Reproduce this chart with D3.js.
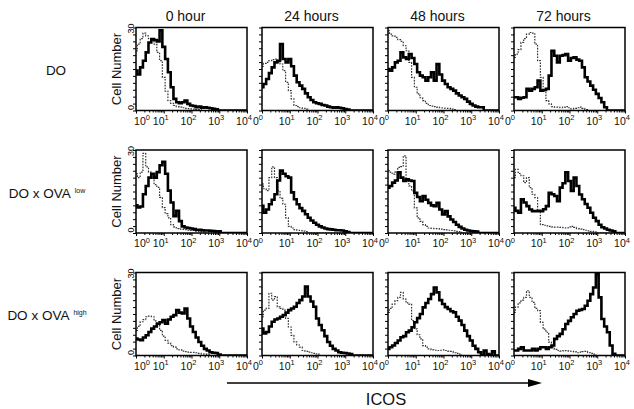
<!DOCTYPE html>
<html><head><meta charset="utf-8">
<script src="https://cdn.jsdelivr.net/npm/d3@7"></script>
<style>
body{margin:0;background:#fff}
svg{display:block;font-family:"Liberation Sans",Arial,Helvetica,sans-serif}
</style>
</head><body>
<svg id="chart" width="634" height="409"></svg>
<script>
// ---------- data ----------
const timepoints = ["0 hour", "24 hours", "48 hours", "72 hours"];
const strainNames = ["DO", "DO x OVA", "DO x OVA"];
const strainSup = ["", "low", "high"];
const axisTitle = "ICOS";
const yAxisTitle = "Cell Number";
const yTickLabels = [0, 30];
const xMajorTicks = [1, 10, 100, 1000, 10000];
const xTickExponents = ["0", "1", "2", "3", "4"];
// histogram bin positions (log10 ICOS fluorescence)
const binDecades = [0,0.1,0.2,0.3,0.4,0.5,0.6,0.7,0.8,0.9,1.0,1.1,1.2,1.3,1.4,1.5,1.6,1.7,1.8,1.9,2.0,
                    2.1,2.2,2.3,2.4,2.5,2.6,2.7,2.8,2.9,3.0,3.1,3.2,3.3,3.4,3.5,3.6,3.7,3.8,3.9,4.0];

// ICOS staining (thick solid) — one array per timepoint
const icosDO = [
  [14.4,13,15.6,18,21,24.6,25.8,25.5,25,29,23,18.6,13.8,8.4,4.2,3,2.6,3,3.6,2.4,1.8,1.6,1.2,1.4,1,1.2,1,0.8,0.6,0.4,0,0,0,0,0,0,0,0,0,0,0],
  [8.4,9.6,11.4,13.5,15.6,17.4,18,24,18.6,17.4,18.6,16,12.6,10.2,9,7.8,6.2,4.8,3.8,3,2.6,2.4,2,1.8,1.4,1.2,1,1.2,1,0.8,0.5,0.3,0,0,0,0,0,0,0,0,0],
  [15,14.4,15.6,17.4,18,21,19.2,18.6,20.4,19,16.8,13.8,12.6,12,10.8,12,13.8,10.8,16.8,13,10.8,9.6,8.4,7.8,7.2,6.2,5.4,4.8,4.2,3.2,2.4,1.8,1.4,1.2,1.2,0,0,0,0,0,0],
  [4.8,4.8,4.2,4.6,4.8,7.8,7.2,7.8,8.4,10.8,7.2,7.4,7.8,12.6,21.6,19.8,17.4,19.8,20,20.4,18,19,19.2,18.4,18,15.6,12,10.5,9,7.5,6,4.5,3,1.2,0,0,0,0,0,0,0]
];
const icosOvaLow = [
  [10,9.2,9.6,14,17,20,21.4,20,22,24.5,25.7,21.4,15.3,11,6.1,8,4.3,2.4,2,1.8,1.6,1.4,1.2,1.2,1,0.9,0.9,0.8,0.7,0.6,0.6,0,0,0,0,0,0,0,0,0,0],
  [9.8,7.3,8.5,10.4,12,14,19,22.6,21.4,20.5,20,14.7,12.2,10.4,9,8,6.8,5.5,4.5,3.7,3,2.4,2,1.6,1.4,1.3,1.2,1,1,0.9,0.6,0.3,0,0,0,0,0,0,0,0,0],
  [16.4,17,18.2,19,21.9,20,18.8,19.4,19,18.8,14.5,13,11.5,13.4,12,10.9,10,9.7,10.9,8.5,6.7,7.9,6,4.9,4,3,2.2,1.6,1.2,0.9,0.7,0.6,0.5,0,0,0,0,0,0,0,0],
  [9.1,8,7.3,12.2,11,9.7,8.5,7.9,7.9,8,7.9,8.6,9.7,14.5,14,13.4,11.5,16.4,18,21.9,18.8,15.2,20,17,13.9,12.2,10.5,9.1,7.3,5.5,4.3,3,2.1,1.6,1.2,0.9,0.6,0,0,0,0]
];
const icosOvaHigh = [
  [6.1,5.8,5.5,6.5,7.3,8.5,9.7,10.5,11.5,12,12.8,11.5,13,14,14.6,16.4,15.5,15.2,17,13.4,10.5,8.5,6.5,4.9,3.5,2.4,1.8,1.2,1,0.9,0.3,0,0,0,0,0,0,0,0,0,0],
  [9.7,8,8.5,10.5,12.2,13,13.4,14,14.6,15.5,16.4,17,17.6,19,20,21.3,24.9,21.3,19.5,17.6,13.4,11,9.1,7,4.9,3.5,2.4,1.8,1.2,1,0.9,0.7,0.5,0,0,0,0,0,0,0,0],
  [2.4,3,3.6,4.5,5.4,6.6,7,8.4,9,10.2,12,13.5,15,17.4,19,20.4,22.2,24.6,22.8,20,18.6,17.5,16.8,16,15.6,14,12.6,11,9,7,5.4,3.5,2.4,1.2,0,1.8,0.5,0,1.5,0,0],
  [1.8,1.8,2.4,3,1.8,1.8,1.8,2.4,1.8,2.4,3,3,2.4,3,3.6,6,7,7.8,9.5,11.4,12.5,13.8,15,16.2,16.5,16.8,18,19.8,22.2,24.6,29.4,21,13.2,10.5,8.4,3.6,0.6,0,0,0,0]
];
// isotype control (thin dashed)
const ctrlDO = [
  [21.6,24,26,28,27,26,25,24,21,18,12,7,3.6,2.6,1.8,1.4,1.2,1,0.8,0.7,0.6,0.5,0.4,0.3,0,0,0,0,0,0,0,0,0,0,0,0,0,0,0,0,0],
  [16,17,17.4,18,18.4,18.6,17.5,16.8,14.4,10.2,7.2,4.2,1.8,1.4,1,0.8,0.5,0,0,0,0,0,0,0,0,0,0,0,0,0,0,0,0,0,0,0,0,0,0,0,0],
  [28.8,27.6,27,26.4,25.6,25,23.4,21.6,17.4,12,8.4,6,4.6,3.6,2.6,1.8,1.6,1.4,1.2,1,0.9,0.8,0.8,0.5,0.3,0,0,0,0,0,0,0,0,0,0,0,0,0,0,0,0],
  [19.2,20.4,22,24.6,26,27.6,28.2,28,24,18,12,7.2,3.6,2.4,1.4,1.2,1.2,1,1.2,1.4,1,0.6,0.8,1,1.2,0.8,0.3,0,0,0,0,0,0,0,0,0,0,0,0,0,0]
];
const ctrlOvaLow = [
  [21.4,20,22,28.8,23.9,22,20,17.5,16.5,12.9,9.2,7,5.5,3,2.2,1.6,1.4,1.3,1.2,1,0.9,0.9,0.7,0.6,0.5,0,0,0,0,0,0,0,0,0,0,0,0,0,0,0,0],
  [17.7,16,15.3,20,23.9,20,15.3,12.5,10.4,5.5,2.4,1.8,1.2,1,0.9,0.7,0.5,0,0,0,0,0,0,0,0,0,0,0,0,0,0,0,0,0,0,0,0,0,0,0,0],
  [22.5,22,21.3,22,23.7,24,27.9,18.8,17,15.2,9.1,5.5,4.2,3,2.4,1.8,1.7,1.6,1.6,1.4,1.2,1.1,1,0.9,0.8,0.6,0.5,0,0,0,0,0,0,0,0,0,0,0,0,0,0],
  [20,23,21.5,20.7,18.2,20,16.4,14,12.8,7.9,3,2.8,2.6,2.4,2.2,2.1,2.1,2,1.9,1.8,2.2,2.4,2,1.6,1.4,1.2,1,0.8,0.6,0.5,0,0,0,0,0,0,0,0,0,0,0]
];
const ctrlOvaHigh = [
  [9.1,10.5,12.2,13,14,14.2,14,12.5,11.5,9.1,7,5.5,4.5,3.6,3,2.4,2,1.6,1.4,1.2,1.1,1.1,1,0.8,0.6,0.5,0.4,0,0,0,0,0,0,0,0,0,0,0,0,0,0],
  [14,16.4,17,22.5,20,21.3,17.6,17,16.4,13.4,10.3,7.3,4.9,3.8,3,1.8,1.5,1.2,1,0.8,0.6,0,0,0,0,0,0,0,0,0,0,0,0,0,0,0,0,0,0,0,0],
  [15.6,17,18.6,19.8,21,22.8,20.4,19,18.6,12.6,9.6,7.5,6,3.6,3,2.4,2,1.9,1.8,1.9,2,1.8,1.6,1.5,1,0.8,0.5,0,0,0,0,0,0,0,0,0,0,0,0,0,0],
  [15.6,17.5,19,20,21,23.4,21,19.2,17,16.2,12,9.5,8.4,4.8,3,2.2,1.8,1.6,1.7,1.8,1.6,1.5,1.3,1,1.2,1.4,1.5,1,0.8,0.5,0,0,0,0,0,0,0,0,0,0,0]
];
const icosRows = [icosDO, icosOvaLow, icosOvaHigh];
const ctrlRows = [ctrlDO, ctrlOvaLow, ctrlOvaHigh];

// ---------- layout ----------
const colX = [136, 262, 388, 514];
const rowY = [27.5, 150, 272.5];
const PW = 111, PH = 83;
const rowLabelX = [56, 47, 47];

const svg = d3.select("#chart");
const x = d3.scaleLog().domain([1, 1e4]).range([0, PW]);
const y = d3.scaleLinear().domain([0, 30]).range([PH, 0]);
const line = d3.line()
  .x((d, i) => x(Math.pow(10, binDecades[i])))
  .y(d => y(d))
  .curve(d3.curveStep);

const minorTicks = [];
for (let k = 0; k < 4; k++) for (let m = 2; m <= 9; m++) minorTicks.push(m * Math.pow(10, k));

svg.append("defs").append("clipPath").attr("id", "pclip")
  .append("rect").attr("x", 0).attr("y", 0).attr("width", PW).attr("height", PH);

// column titles
timepoints.forEach((t, c) => {
  svg.append("text").attr("x", colX[c] + PW / 2 - 6).attr("y", 21)
    .attr("text-anchor", "middle").attr("font-size", 14).attr("fill", "#111").text(t);
});

rowY.forEach((ry, r) => {
  // row label
  const rl = svg.append("text").attr("x", rowLabelX[r]).attr("y", ry + PH / 2 + 6)
    .attr("text-anchor", "middle").attr("font-size", 13.5).attr("fill", "#111").text(strainNames[r]);
  if (strainSup[r]) {
    rl.append("tspan").attr("dx", 4).attr("dy", -5).attr("font-size", 7).text(strainSup[r]);
  }
  // y axis title
  svg.append("text")
    .attr("transform", `translate(${colX[0] - 15},${ry + PH / 2}) rotate(-90)`)
    .attr("text-anchor", "middle").attr("font-size", 13).attr("fill", "#111").text(yAxisTitle);

  colX.forEach((cx, c) => {
    const g = svg.append("g").attr("transform", `translate(${cx},${ry})`);
    const plot = g.append("g").attr("clip-path", "url(#pclip)");
    plot.append("path").datum(ctrlRows[r][c]).attr("d", line)
      .attr("fill", "none").attr("stroke", "#333").attr("stroke-width", 1.2)
      .attr("stroke-dasharray", "1.6,1.3");
    plot.append("path").datum(icosRows[r][c]).attr("d", line)
      .attr("fill", "none").attr("stroke", "#000").attr("stroke-width", 2.6)
      .attr("stroke-linejoin", "miter");

    // axes ticks
    const ax1 = g.append("g").attr("transform", `translate(0,${PH})`)
      .call(d3.axisBottom(x).tickValues(minorTicks).tickSize(2).tickFormat(""));
    const ax2 = g.append("g").attr("transform", `translate(0,${PH})`)
      .call(d3.axisBottom(x).tickValues(xMajorTicks).tickSize(3).tickFormat(""));
    const ay = g.append("g")
      .call(d3.axisLeft(y).tickValues(d3.range(0, 30.01, 2.5)).tickSize(3).tickFormat(""));
    [ax1, ax2, ay].forEach(a => { a.select(".domain").remove(); a.selectAll("line").attr("stroke-width", 1); });

    g.append("rect").attr("width", PW).attr("height", PH)
      .attr("fill", "none").attr("stroke", "#000").attr("stroke-width", 1.5);

    // x tick labels
    xMajorTicks.forEach((v, i) => {
      let tx = x(v) - 3, anchor = "middle", base = "10";
      if (i === 0) {
        if (c === 0) { tx = x(v) + 6; }
        else { tx = x(v) + 1; anchor = "end"; base = "0"; }
      }
      const t = g.append("text").attr("x", tx).attr("y", PH + 14)
        .attr("text-anchor", anchor).attr("font-size", 10.5).attr("fill", "#111").text(base);
      t.append("tspan").attr("dy", -4.5).attr("font-size", 7.5).text(xTickExponents[i]);
    });

    // y tick labels (first column)
    if (c === 0) {
      yTickLabels.forEach(v => {
        const yy = v === 0 ? y(v) - 3 : y(v) + 1;
        g.append("text").attr("transform", `translate(-2.5,${yy}) rotate(-90)`)
          .attr("text-anchor", "middle").attr("font-size", 9).text(v);
      });
    }
  });
});

// ICOS arrow
const ar = svg.append("g");
ar.append("line").attr("x1", 227).attr("x2", 530).attr("y1", 383).attr("y2", 383)
  .attr("stroke", "#000").attr("stroke-width", 1.3);
ar.append("path").attr("d", "M528,379 L542,383 L528,387 Z").attr("fill", "#000");
svg.append("text").attr("x", 386).attr("y", 405).attr("text-anchor", "middle")
  .attr("font-size", 16.5).attr("fill", "#111").text(axisTitle);
</script>
</body></html>
